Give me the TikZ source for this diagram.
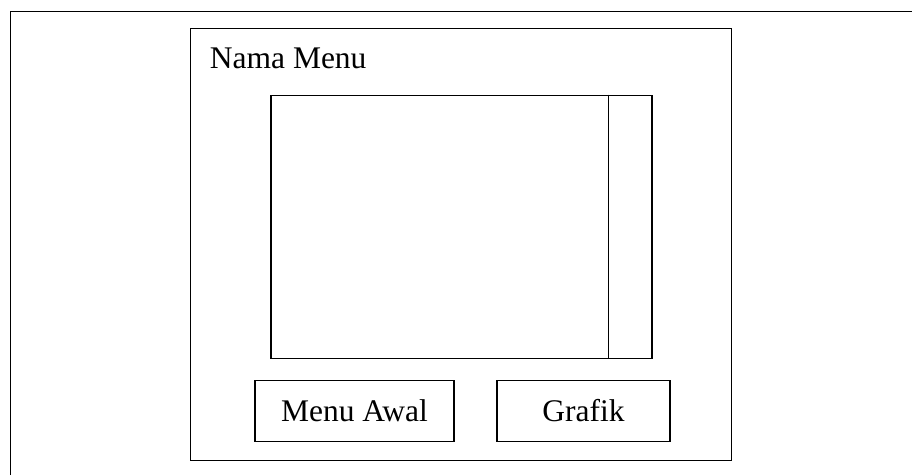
\documentclass[tikz,border=0pt]{standalone}
\usepackage{fontspec}
\setmainfont{Liberation Serif}
\begin{document}
\begin{tikzpicture}[x=1pt,y=-1pt,line width=1.8pt,
  frame/.style={draw=black,line width=1.8pt},
  thin/.style={draw=black,line width=1.6pt},
  lbl/.style={font=\fontsize{31.5}{36}\selectfont,inner sep=0pt}]
\useasboundingbox (0,0) rectangle (912,475);
% outer (cropped) frame
\coordinate (oBL) at (10.5,475);
\coordinate (oTL) at (10.5,11.5);
\coordinate (oTR) at (912,11.5);
\draw[frame] (oBL) -- (oTL) -- (oTR);
% window
\node[frame,rectangle,minimum width=541pt,minimum height=432pt,inner sep=0pt,anchor=north west] (win) at (189.5,27.5) {};
\node[lbl,anchor=base west] (title) at (209,68) {Nama Menu};
% content area
\node[thin,rectangle,minimum width=381pt,minimum height=263pt,inner sep=0pt,anchor=north west] (content) at (270,94.5) {};
\coordinate (divT) at (608.5,94.5);
\coordinate (divB) at (608.5,357.5);
\draw[thin] (divT) -- (divB);
% buttons
\node[frame,rectangle,minimum width=199pt,minimum height=61pt,inner sep=0pt,anchor=north west] (btnA) at (254,379.5) {};
\node[lbl] (txtA) at (btnA.center) {Menu Awal};
\node[frame,rectangle,minimum width=173pt,minimum height=61pt,inner sep=0pt,anchor=north west] (btnB) at (496,379.5) {};
\node[lbl] (txtB) at (btnB.center) {Grafik};
\end{tikzpicture}
\end{document}
